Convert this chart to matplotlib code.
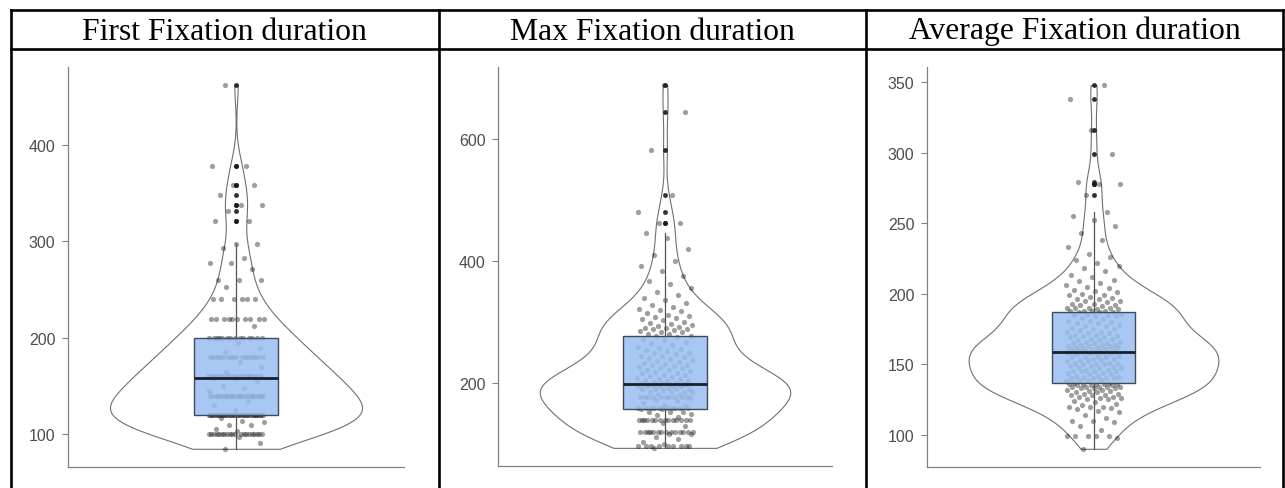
import numpy as np
import matplotlib
matplotlib.use("Agg")
import matplotlib.pyplot as plt
from matplotlib.lines import Line2D

titles = ["First Fixation duration", "Max Fixation duration", "Average Fixation duration"]

first_fixation = [
    85, 91, 97, 100, 100, 100, 100, 100, 100, 100, 100, 100, 100, 100, 100, 100, 100, 100, 100, 100, 100,
    100, 100, 103, 106, 110, 110, 113, 114, 117,
    120, 120, 120, 120, 120, 120, 120, 120, 120, 120, 120, 120, 120, 120, 120, 120, 120, 120, 120, 120,
    120, 120, 120, 120, 120, 120, 120, 120, 120, 120, 120, 120, 120, 120, 120,
    125, 130, 135,
    140, 140, 140, 140, 140, 140, 140, 140, 140, 140, 140, 140, 140, 140, 140, 140, 140, 140, 140, 140,
    140, 140, 140, 140, 140, 140, 140,
    145, 148, 150, 155, 158, 158,
    160, 160, 160, 160, 160, 160, 160, 160, 160, 160, 160, 160, 160, 160, 160, 160, 160, 160, 160, 160,
    160, 160, 165, 170, 175,
    180, 180, 180, 180, 180, 180, 180, 180, 180, 180, 180, 180, 180, 180, 180, 180, 180, 180, 185, 190, 195,
    200, 200, 200, 200, 200, 200, 200, 200, 200, 200, 200, 200, 200, 200,
    212, 220, 220, 220, 220, 220, 220, 220, 220, 220, 220, 240, 240, 240, 240, 240, 240,
    253, 260, 260, 260, 271, 278, 278, 283, 293, 297, 297,
    321, 321, 332, 338, 338, 348, 358, 358, 378, 378, 462,
]

max_fixation = [
    94, 97, 97, 97, 97, 97, 97, 97, 97, 97, 100, 103, 108, 112, 116, 116,
    120, 120, 120, 120, 120, 120, 120, 120, 120, 120, 120, 120, 120, 120, 130, 135,
    140, 140, 140, 140, 140, 140, 140, 140, 140, 140, 140, 140, 140, 140, 145, 148, 150, 152, 152, 152,
    157, 158, 160, 160, 160, 160, 160, 160, 160, 160, 160, 160, 163, 165, 167, 170, 172, 175,
    178, 178, 178, 178, 178, 178, 178, 178, 178, 178, 180, 182, 185, 185, 185, 185, 188,
    190, 190, 190, 190, 192, 195, 195, 195, 195, 196, 197, 198, 198, 198, 198, 198, 198, 198, 198,
    199, 200, 200, 201, 202, 203, 204, 205, 206, 207, 208, 210, 211, 213, 214,
    216, 217, 218, 220, 221, 222, 224, 225, 226, 228, 229, 230, 232, 233, 235, 236, 238, 239,
    241, 242, 244, 245, 247, 249, 250, 252, 254, 256, 257, 259, 262, 265, 268, 271, 273, 275,
    277, 278, 280, 281, 283, 284, 286, 287, 288, 289, 290, 291, 292, 294, 295, 297, 298, 300, 303,
    305, 306, 308, 310, 312, 315, 318, 320, 322, 325, 328, 332, 336, 340, 345, 350, 356, 362, 368, 375,
    383, 392, 400, 410, 420, 437, 446, 463, 463, 481, 508, 581, 644, 688,
]

average_fixation = [
    90, 98, 99, 99, 99, 99, 99, 103, 106, 109, 110, 110, 112, 114, 116, 117, 118, 119, 120, 120,
    120, 121, 122, 123, 124, 125, 125, 126, 126, 127, 127, 128, 128, 128, 129, 129, 130, 130, 131, 131,
    132, 132, 133, 133, 133, 134, 134, 134, 134, 134, 135, 135, 135, 136, 136, 136, 136, 136,
    137, 137, 138, 138, 139, 139, 140, 140, 140, 140, 141, 141, 142, 142, 143, 143, 144, 144, 145, 145,
    145, 145, 146, 146, 147, 147, 148, 148, 149, 149, 150, 150, 150, 150, 151, 151, 152, 152, 153, 153,
    154, 154, 155, 155, 155, 156, 156, 157, 157, 158, 158, 158, 159, 159, 159, 159, 159, 159, 159,
    160, 160, 160, 160, 161, 161, 161, 162, 162, 162, 163, 163, 163, 164, 164, 164, 165, 165, 165, 166,
    166, 167, 167, 168, 168, 169, 169, 170, 170, 171, 171, 172, 172, 173, 173, 174, 175, 175, 176, 177,
    177, 178, 179, 179, 180, 181, 181, 182, 183, 184, 184, 185, 185, 186, 186, 187, 187, 187,
    188, 188, 188, 188, 189, 189, 190, 190, 190, 190, 191, 192, 192, 193, 193, 194, 195, 195, 196, 196,
    197, 198, 199, 199, 200, 201, 202, 203, 204, 205, 206, 208, 209, 210, 212, 213, 216, 218, 220, 222,
    224, 226, 228, 233, 238, 243, 248, 252, 255, 258, 270, 278, 278, 279, 299, 316, 338, 348,
]

series = [first_fixation, max_fixation, average_fixation]
y_ticks = [[100, 200, 300, 400], [200, 400, 600], [100, 150, 200, 250, 300, 350]]

W, H = 1285, 489
fig = plt.figure(figsize=(W / 100, H / 100), dpi=100)

# table grid (pixel positions)
col_x = [10.5, 439, 866, 1283]
top_y, head_y = 11, 49.5
axes_px = [(68, 404, 68, 468), (498, 832, 68, 467), (927, 1260, 68, 468)]


def fig_line(x0, y0, x1, y1):
    fig.add_artist(Line2D([x0 / W, x1 / W], [1 - y0 / H, 1 - y1 / H], transform=fig.transFigure,
                          color="black", lw=1.9, solid_capstyle="projecting"))


fig_line(col_x[0], top_y, col_x[-1], top_y)
fig_line(col_x[0], head_y, col_x[-1], head_y)
for cx in col_x:
    fig_line(cx, top_y, cx, H + 5)

for i, t in enumerate(titles):
    cx = (col_x[i] + col_x[i + 1]) / 2
    fig.text(cx / W, 1 - 39.5 / H, t, ha="center", va="baseline", fontsize=22.8,
             family="Liberation Serif", color="black")


def bw_nrd0(x):
    sd = x.std(ddof=1)
    q1, q3 = np.percentile(x, [25, 75])
    return 0.9 * min(sd, (q3 - q1) / 1.34) * len(x) ** -0.2


for k, (vals, ticks) in enumerate(zip(series, y_ticks)):
    l, r, t, b = axes_px[k]
    ax = fig.add_axes([l / W, 1 - b / H, (r - l) / W, (b - t) / H])
    data = np.asarray(vals, dtype=float)
    factor = bw_nrd0(data) / data.std(ddof=1)
    vp = ax.violinplot([data], positions=[1], widths=0.9, showextrema=False,
                       bw_method=factor, points=512)
    for body in vp["bodies"]:
        body.set_facecolor("white")
        body.set_edgecolor("#707070")
        body.set_linewidth(0.8)
        body.set_alpha(1)
        body.set_zorder(1)
    n = len(data)
    u = (np.arange(n) * 0.6180339887 + 0.31) % 1.0
    jx = 1 + (u * 2 - 1) * 0.1
    ax.scatter(jx, data, s=14, c="black", alpha=0.38, linewidths=0, zorder=2)
    ax.boxplot([data], positions=[1], widths=0.3, whis=1.5, patch_artist=True,
               showcaps=False, manage_ticks=False, zorder=3,
               boxprops=dict(facecolor=(0.6, 0.745, 0.94, 0.85), edgecolor="#3d4a5c", linewidth=1.0),
               medianprops=dict(color="#17202c", linewidth=2.0),
               whiskerprops=dict(color="#555555", linewidth=0.9),
               flierprops=dict(marker="o", markersize=3.5, markerfacecolor="#1a1a1a",
                               markeredgecolor="none", alpha=0.9))
    lo, hi = data.min(), data.max()
    pad = 0.05 * (hi - lo)
    ax.set_ylim(lo - pad, hi + pad)
    ax.set_xlim(0.4, 1.6)
    ax.set_xticks([])
    ax.set_yticks(ticks)
    for s in ("top", "right"):
        ax.spines[s].set_visible(False)
    for s in ("left", "bottom"):
        ax.spines[s].set_color("#808080")
        ax.spines[s].set_linewidth(0.9)
    ax.tick_params(axis="y", length=4.5, width=0.8, color="#808080", labelsize=11.5,
                   labelcolor="#4d4d4d", pad=4.5)
    for lab in ax.get_yticklabels():
        lab.set_family("Liberation Sans")
    ax.patch.set_alpha(0)

fig.savefig("out.png", dpi=100)
